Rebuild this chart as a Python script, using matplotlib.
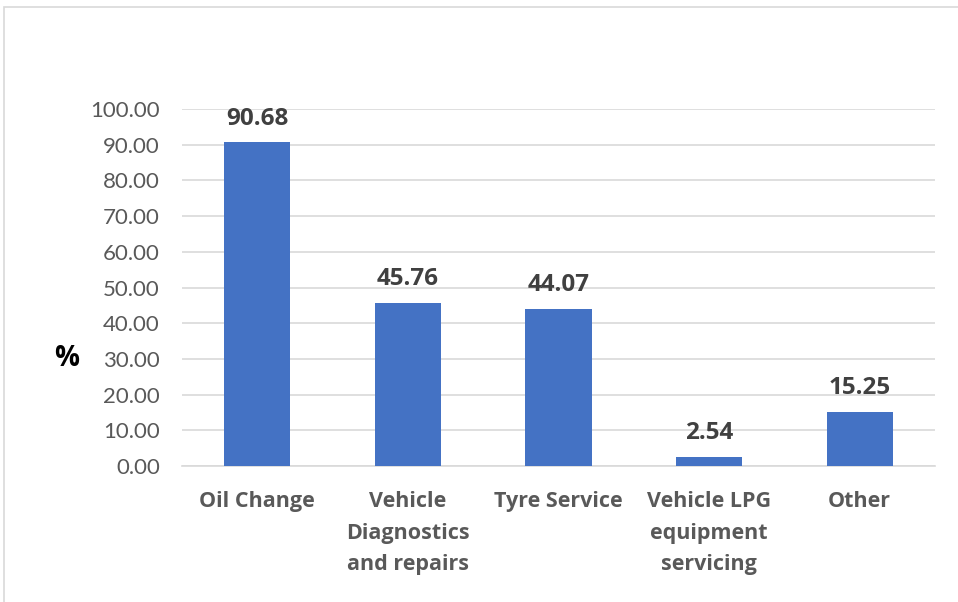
import matplotlib
matplotlib.use("Agg")
import matplotlib.pyplot as plt
from matplotlib.patches import Rectangle

categories = ["Oil Change", "Vehicle\nDiagnostics\nand repairs", "Tyre Service",
              "Vehicle LPG\nequipment\nservicing", "Other"]
values = [90.68, 45.76, 44.07, 2.54, 15.25]
yticks = [0, 10, 20, 30, 40, 50, 60, 70, 80, 90, 100]

plt.rcParams['font.family'] = ['Lato', 'DejaVu Sans']
BOLD = ['Open Sans', 'DejaVu Sans']

fig = plt.figure(figsize=(9.58, 6.02), dpi=100)
W, H = 958, 602
ax = fig.add_axes([182 / W, 1 - 466 / H, (935 - 182) / W, (466 - 109) / H])

x = list(range(len(categories)))
bars = ax.bar(x, values, width=0.44, color="#4472C4", zorder=3)
ax.set_xlim(-0.5, len(categories) - 0.5)
ax.set_ylim(0, 100)
ax.set_yticks(yticks)
ax.set_yticklabels([f"{v:.2f}" for v in yticks], fontsize=16, color="#595959")
ax.set_xticks(x)
ax.set_xticklabels(categories, fontsize=15.5, fontweight="bold", color="#595959",
                   linespacing=1.66, va="top", family=BOLD)
ax.tick_params(axis="both", length=0)
ax.tick_params(axis="x", pad=18)
ax.tick_params(axis="y", pad=16)
ax.grid(axis="y", color="#D9D9D9", linewidth=1.2, zorder=0)
for s in ["top", "right", "left"]:
    ax.spines[s].set_visible(False)
ax.spines["bottom"].set_color("#D9D9D9")
ax.spines["bottom"].set_linewidth(1.2)

for b, v in zip(bars, values):
    ax.annotate(f"{v:.2f}", (b.get_x() + b.get_width() / 2, v), xytext=(0, 17),
                textcoords="offset points", ha="center", va="center",
                fontsize=17.5, fontweight="bold", color="#404040", family=BOLD)

fig.text(67 / W, 1 - 359 / H, "%", fontsize=20, fontweight="bold", color="black",
         ha="center", va="center", family=BOLD)

fig.patches.append(Rectangle((4 / W, -0.05), 1.2, 1 - 7 / H + 0.05, transform=fig.transFigure,
                             fill=False, edgecolor="#D9D9D9", linewidth=1.2))

fig.savefig("out.png", dpi=100)
